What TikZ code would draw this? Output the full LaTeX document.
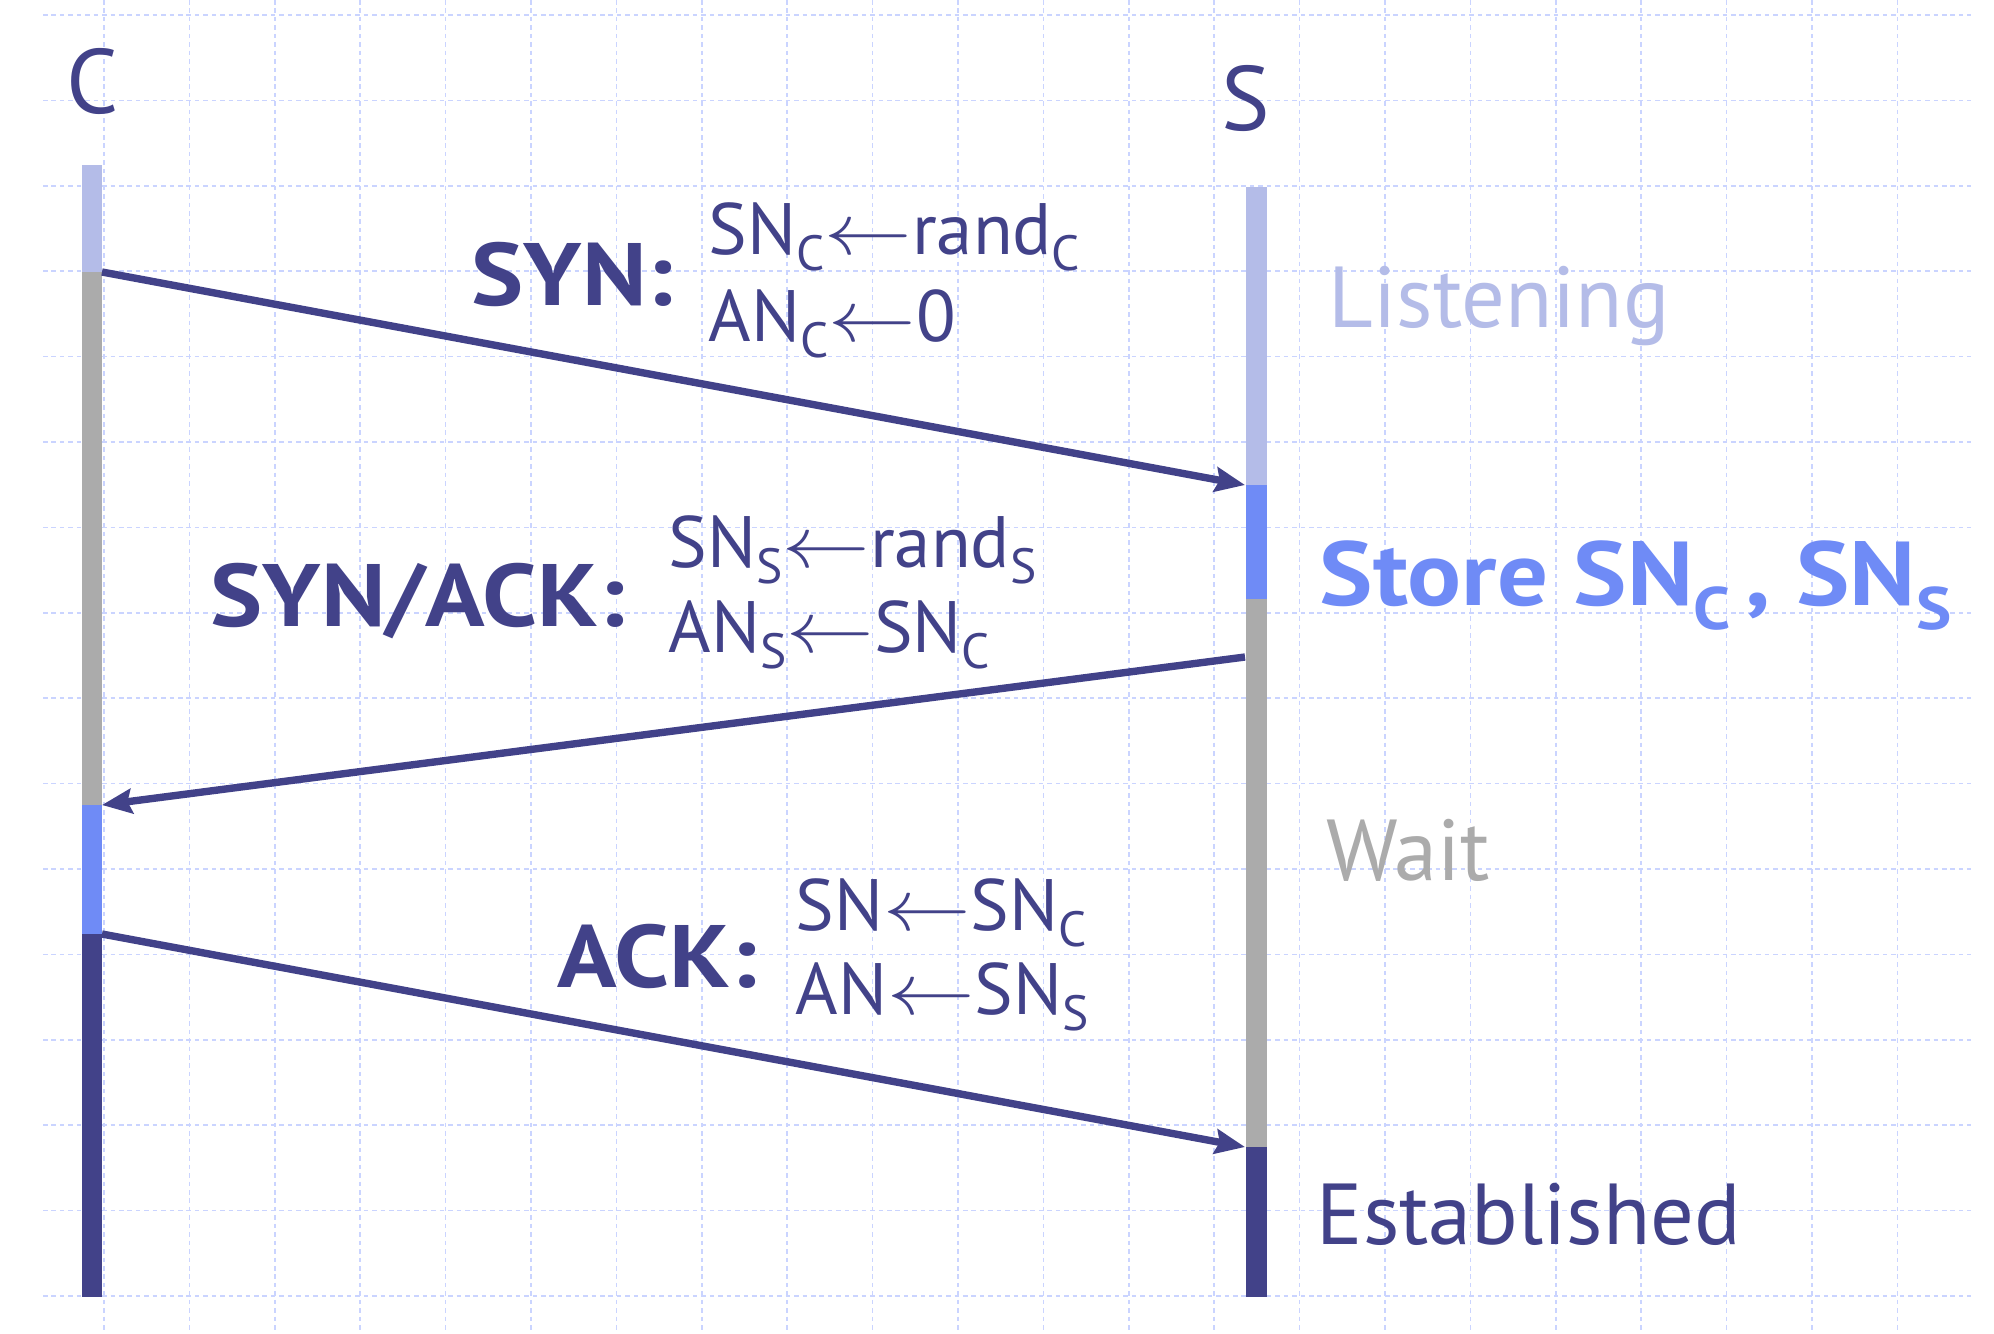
\documentclass[tikz,border=0pt]{standalone}
\usepackage{fontspec}
\setmainfont{PT Sans}[BoldFeatures={FakeStretch=1.11}]
\usepackage{graphicx}
\usetikzlibrary{arrows.meta}
\definecolor{navy}{RGB}{66,66,137}
\definecolor{lilac}{RGB}{180,188,232}
\definecolor{bright}{RGB}{111,139,246}
\definecolor{midgray}{RGB}{171,171,171}
\definecolor{gridblue}{RGB}{202,212,255}
\newcommand\lo[1]{\raisebox{-0.22em}{\scalebox{0.68}{#1}}}
\newcommand\lob[1]{\raisebox{-0.27em}{\scalebox{0.66}{#1}}}
\newcommand\la{\scalebox{1.2}[1]{$\leftarrow$}}
\begin{document}
\begin{tikzpicture}[x=0.01cm,y=-0.01cm,
  txt/.style={inner sep=0pt,anchor=base west,text=navy},
  small/.style={txt,font=\fontsize{20.7pt}{24pt}\selectfont},
  bigb/.style={txt,font=\fontsize{25.2pt}{30pt}\selectfont\bfseries},
  state/.style={inner sep=0pt,anchor=base west,font=\fontsize{24.6pt}{30pt}\selectfont},
  party/.style={inner sep=0pt,anchor=base,text=navy,font=\fontsize{26pt}{30pt}\selectfont},
  msg/.style={draw=navy,line width=2.1pt,-{Stealth[length=8.5pt,width=7pt,inset=1.2pt]}},
  gridline/.style={gridblue,line width=0.42pt,dash pattern=on 1.3pt off 1.1pt}]
\useasboundingbox (0,0) rectangle (1994,1333);
\fill[white] (0,0) rectangle (1994,1333);
% grid
\foreach \k in {0,...,21} \draw[gridline] ({104+85.4*\k},0) -- ({104+85.4*\k},1333);
\foreach \k in {0,...,15} \draw[gridline] (43,{15+85.4*\k}) -- (1971,{15+85.4*\k});
% client timeline
\fill[lilac]  (82,165) rectangle (102,272);
\fill[midgray](82,272) rectangle (102,805);
\fill[bright] (82,805) rectangle (102,934);
\fill[navy]   (82,934) rectangle (102,1297);
% server timeline
\fill[lilac]  (1246,187) rectangle (1267,485);
\fill[bright] (1246,485) rectangle (1267,599);
\fill[midgray](1246,599) rectangle (1267,1147);
\fill[navy]   (1246,1147) rectangle (1267,1297);
% parties
\node[party] (C) at (93,113) {C};
\node[party] (S) at (1246,130) {S};
% endpoints
\coordinate (c1) at (102,272);
\coordinate (s1) at (1245,485);
\coordinate (s2) at (1245,657);
\coordinate (c2) at (102,805);
\coordinate (c3) at (102,934);
\coordinate (s3) at (1245,1147);
\draw[msg] (c1) -- (s1);
\draw[msg] (s2) -- (c2);
\draw[msg] (c3) -- (s3);
% SYN
\node[bigb] (syn) at (471,305) {SYN:};
\node[small] (syn1) at (708,254) {SN\lo{C}\la rand\lo{C}};
\node[small] (syn2) at (708,341) {AN\lo{C}\la 0};
% SYN/ACK
\node[bigb] (synack) at (210,626) {SYN/ACK:};
\node[small] (sa1) at (668,567) {SN\lo{S}\la rand\lo{S}};
\node[small] (sa2) at (668,652) {AN\lo{S}\la SN\lo{C}};
% ACK
\node[bigb] (ack) at (557,987) {ACK:};
\node[small] (ack1) at (795,930) {SN\la SN\lo{C}};
\node[small] (ack2) at (795,1014) {AN\la SN\lo{S}};
% states
\node[state,text=lilac] (listen) at (1328,327) {Listening};
\node[state,text=bright,font=\fontsize{25.8pt}{30pt}\selectfont\bfseries] (store) at (1319,605) {Store SN\lob{C}\,, SN\lob{S}};
\node[state,text=midgray] (wait) at (1326,880) {Wait};
\node[state,text=navy] (est) at (1316,1244) {Established};
\end{tikzpicture}
\end{document}
